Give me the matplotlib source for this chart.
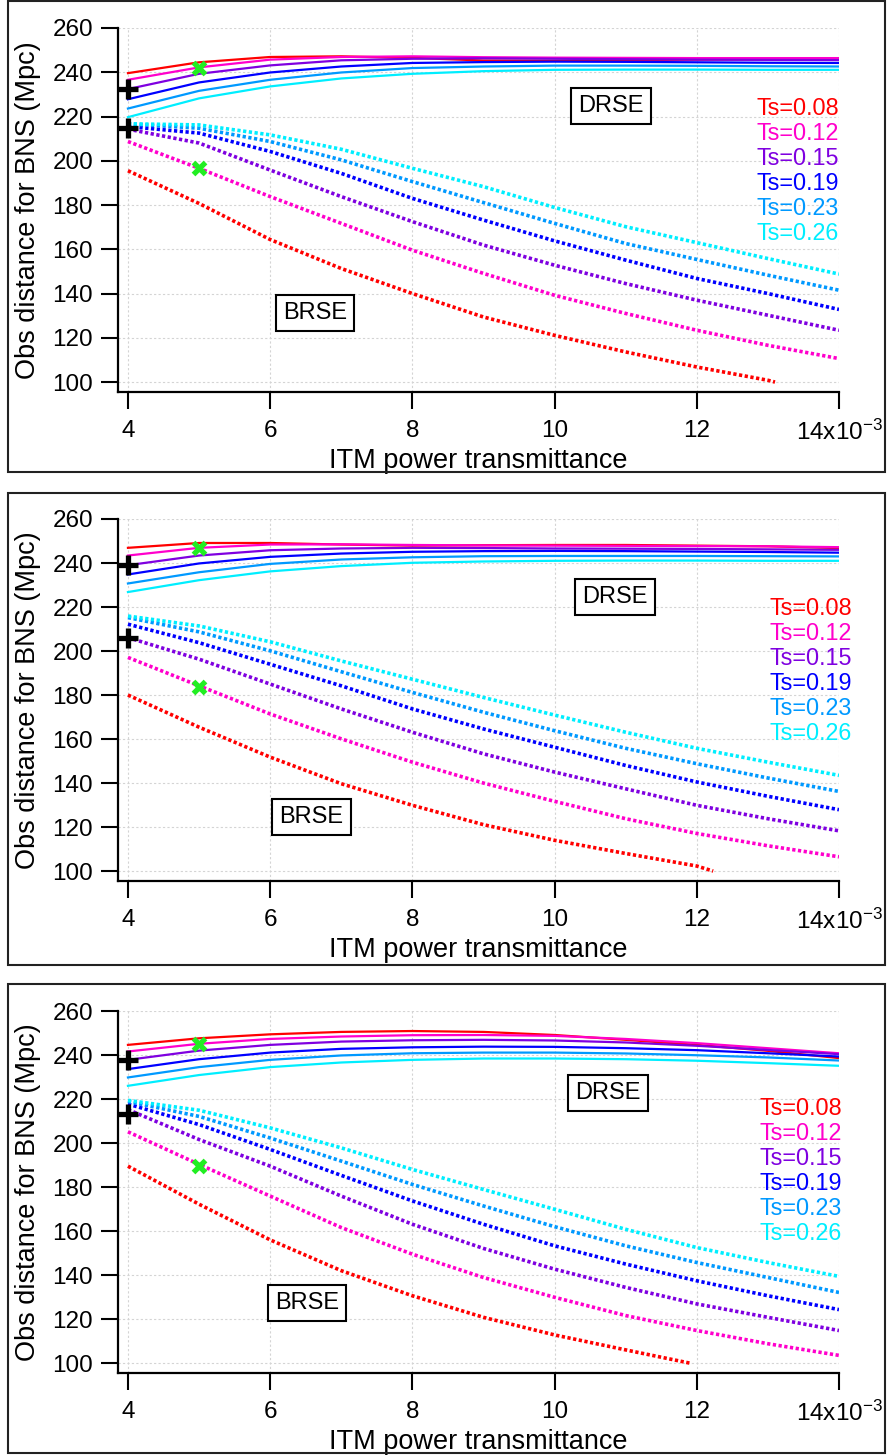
"""
Observable BNS range vs ITM power transmittance, DRSE (solid) and BRSE (dotted),
three configurations stacked vertically.
"""

import numpy as np
import matplotlib.pyplot as plt
from matplotlib.patches import Rectangle
from matplotlib.ticker import FuncFormatter

plt.rcParams['font.family'] = ['Liberation Sans', 'DejaVu Sans']
plt.rcParams['mathtext.fontset'] = 'custom'
plt.rcParams['mathtext.rm'] = 'Liberation Sans'
plt.rcParams['mathtext.default'] = 'regular'

# ---------------------------------------------------------------------------
# Data (ITM transmittance in units of 1e-3)
# ---------------------------------------------------------------------------
ts_values = [0.08, 0.12, 0.15, 0.19, 0.23, 0.26]
ts_colors = ['#FF0000', '#FF00CC', '#7F00E0', '#0000FF', '#0099FF', '#00EEFF']

t_itm = [4, 5, 6, 7, 8, 9, 10, 11, 12, 13, 14]

# panel 1
drse_1 = [
    [239.6, 244.5, 246.9, 247.2, 246.5, 245.3, 245.2, 245.5, 245.7, 245.9, 246.0],
    [236.6, 242.2, 245.7, 246.9, 247.2, 246.8, 246.6, 246.5, 246.4, 246.4, 246.4],
    [232.4, 239.3, 243.1, 245.4, 246.1, 246.3, 246.1, 245.9, 245.7, 245.6, 245.5],
    [227.8, 235.4, 239.9, 242.6, 244.2, 244.6, 244.8, 244.7, 244.5, 244.3, 244.2],
    [223.6, 231.6, 236.6, 239.9, 241.9, 242.6, 243.0, 243.0, 242.9, 242.7, 242.6],
    [219.7, 228.2, 233.6, 237.2, 239.3, 240.5, 241.1, 241.2, 241.2, 241.1, 241.1],
]
brse_1 = [
    [195.5, 180.7, 164.4, 151.3, 140.0, 129.4, 121.1, 113.6, 106.8, 100.8, 100.0],
    [208.7, 196.6, 183.8, 171.7, 159.6, 149.1, 139.2, 131.0, 123.4, 116.6, 110.6],
    [214.3, 208.0, 195.8, 183.8, 172.5, 161.9, 152.8, 144.5, 137.0, 130.2, 123.4],
    [215.5, 212.5, 204.2, 194.3, 183.0, 173.2, 163.8, 155.1, 146.8, 140.0, 132.8],
    [216.7, 214.7, 208.7, 200.4, 190.6, 181.1, 171.7, 162.6, 155.4, 148.3, 141.5],
    [216.7, 216.2, 211.7, 205.2, 196.6, 188.3, 178.9, 170.2, 163.0, 155.8, 148.8],
]
red_end_1 = [4, 5, 6, 7, 8, 9, 10, 11, 12, 13, 13.1]

# panel 2
drse_2 = [
    [246.9, 249.1, 249.1, 248.4, 247.9, 248.1, 248.2, 248.2, 247.9, 247.6, 246.8],
    [243.4, 246.9, 248.4, 248.5, 248.2, 248.0, 247.9, 247.8, 247.7, 247.6, 247.2],
    [239.0, 243.4, 245.8, 246.6, 246.9, 246.8, 246.6, 246.5, 246.4, 246.2, 246.0],
    [234.8, 239.8, 242.8, 244.3, 245.1, 245.4, 245.5, 245.4, 245.2, 245.0, 244.7],
    [230.7, 235.8, 239.6, 241.6, 242.6, 243.1, 243.2, 243.2, 243.2, 243.1, 243.0],
    [226.8, 232.2, 236.2, 238.6, 240.1, 240.7, 241.0, 241.1, 241.1, 241.0, 241.0],
]
brse_2 = [
    [180.0, 165.4, 151.8, 139.7, 129.9, 121.1, 114.0, 108.0, 102.3, 100.0],
    [197.1, 184.2, 171.4, 160.1, 149.5, 140.0, 131.7, 123.8, 117.1, 111.5, 106.5],
    [206.1, 196.3, 185.0, 173.7, 163.1, 153.3, 145.0, 137.4, 129.9, 123.8, 118.3],
    [212.2, 203.8, 194.0, 184.2, 173.7, 164.6, 156.3, 148.0, 140.5, 134.0, 127.9],
    [215.2, 208.7, 200.1, 190.6, 181.2, 172.2, 163.8, 155.8, 148.8, 142.3, 136.2],
    [215.9, 211.4, 204.2, 195.5, 187.2, 178.9, 170.9, 163.1, 155.8, 149.5, 143.5],
]
red_end_2 = [4, 5, 6, 7, 8, 9, 10, 11, 12, 12.23]

# panel 3
drse_3 = [
    [244.6, 247.6, 249.4, 250.5, 250.9, 250.5, 249.1, 246.9, 244.6, 241.9, 238.6],
    [241.6, 245.1, 247.3, 248.4, 249.0, 249.1, 248.7, 247.3, 245.4, 243.1, 240.8],
    [237.8, 242.0, 244.6, 246.1, 246.7, 246.9, 246.6, 245.7, 244.2, 242.3, 240.4],
    [233.6, 238.1, 241.1, 242.8, 243.5, 243.8, 243.7, 243.1, 242.2, 240.8, 239.3],
    [229.8, 234.5, 237.8, 239.8, 240.8, 241.1, 241.1, 240.7, 239.9, 238.9, 237.5],
    [226.0, 230.9, 234.5, 236.6, 237.8, 238.4, 238.4, 238.1, 237.4, 236.3, 235.1],
]
brse_3 = [
    [189.5, 172.2, 156.0, 142.0, 130.6, 120.8, 112.8, 106.0, 100.0],
    [205.1, 190.3, 175.9, 161.6, 149.5, 138.9, 129.9, 121.6, 114.8, 108.8, 103.5],
    [215.2, 201.6, 189.5, 175.9, 163.1, 152.1, 142.7, 134.4, 126.9, 120.8, 114.8],
    [217.7, 208.4, 197.1, 185.3, 173.7, 163.1, 153.3, 145.0, 137.4, 130.6, 124.3],
    [218.9, 212.1, 202.3, 191.8, 181.2, 171.4, 162.0, 153.3, 145.7, 138.9, 132.1],
    [219.4, 214.9, 206.9, 197.8, 188.0, 178.9, 169.9, 160.8, 152.5, 145.7, 139.4],
]
red_end_3 = [4, 5, 6, 7, 8, 9, 10, 11, 11.9]

# operating points: black + at T=4e-3, green x at T=5e-3
plus_y = [[232.3, 215.0], [239.0, 206.1], [237.8, 213.2]]
cross_y = [[242.1, 196.9], [246.9, 183.5], [245.1, 189.5]]

# annotation anchors (data coords)
drse_pos = [(10.79, 224.7), (10.85, 224.7), (10.75, 222.6)]
brse_pos = [(6.63, 131.2), (6.58, 124.7), (6.52, 127.4)]
legend_pos = [(14.0, 223.8), (14.18, 219.4), (14.04, 215.8)]

# ---------------------------------------------------------------------------
# Layout in pixels (figure 891 x 1456)
# ---------------------------------------------------------------------------
W, H = 891, 1456
axes_px = [(28, 392), (519, 881), (1011, 1373)]   # (top, bottom) of each plot
frames_px = [(1, 472), (493, 965), (984, 1453)]
ax_left, ax_right = 118, 839


def tick_fmt(v, pos):
    if abs(v - 14) < 1e-6:
        return r'14x10$^{-3}$'
    return f'{v:g}'


fig = plt.figure(figsize=(W / 100, H / 100), dpi=100)

for (ftop, fbot) in frames_px:
    fig.patches.append(Rectangle((8 / W, 1 - fbot / H), (885 - 8) / W, (fbot - ftop) / H,
                                 transform=fig.transFigure, fill=False,
                                 edgecolor='#222222', lw=1.5))

panels = [(drse_1, brse_1, red_end_1), (drse_2, brse_2, red_end_2),
          (drse_3, brse_3, red_end_3)]

for k, (drse, brse, red_x) in enumerate(panels):
    top, bot = axes_px[k]
    ax = fig.add_axes([ax_left / W, 1 - bot / H, (ax_right - ax_left) / W, (bot - top) / H])

    for i, c in enumerate(ts_colors):
        ax.plot(t_itm, drse[i], '-', color=c, lw=1.6, zorder=3)
        xs = red_x if i == 0 else t_itm
        ax.plot(xs, brse[i], color=c, lw=2.6, linestyle=(0, (0.9, 0.7)), zorder=3)

    ax.plot([4, 4], plus_y[k], '+', color='black', ms=14, mew=3.8, zorder=5)
    ax.plot([5, 5], cross_y[k], 'x', color='#22EE22', ms=9, mew=3.8, zorder=5)

    box = dict(boxstyle='square,pad=0.3', facecolor='white', edgecolor='black', lw=1.5)
    ax.text(*drse_pos[k], 'DRSE', fontsize=17, ha='center', va='center', bbox=box, zorder=6)
    ax.text(*brse_pos[k], 'BRSE', fontsize=17, ha='center', va='center', bbox=box, zorder=6)

    for i, (ts, c) in enumerate(zip(ts_values, ts_colors)):
        ax.annotate(f'Ts={ts:.2f}', xy=legend_pos[k], xycoords='data',
                    xytext=(0, -18 * i), textcoords='offset points',
                    ha='right', va='center', color=c, fontsize=16.8,
                    annotation_clip=False, zorder=6)

    ax.set_xlim(3.86, 14)
    ax.set_ylim(95.5, 260)
    ax.set_xticks([4, 6, 8, 10, 12, 14])
    ax.set_yticks(np.arange(100, 261, 20))
    ax.xaxis.set_major_formatter(FuncFormatter(tick_fmt))

    for side in ['top', 'right']:
        ax.spines[side].set_visible(False)
    for side in ['left', 'bottom']:
        ax.spines[side].set_linewidth(1.6)
    ax.tick_params(direction='out', length=12, width=1.5, labelsize=17.5)
    ax.tick_params(axis='x', pad=8)
    ax.tick_params(axis='y', pad=6)
    ax.grid(True, color='#d4d4d4', linestyle=(0, (2, 2)), lw=0.8, zorder=0)
    ax.set_axisbelow(True)

    ax.set_xlabel('ITM power transmittance', fontsize=19.5, labelpad=2)
    ax.set_ylabel('Obs distance for BNS (Mpc)', fontsize=19.5, labelpad=8)

fig.savefig('out.png', dpi=100)
